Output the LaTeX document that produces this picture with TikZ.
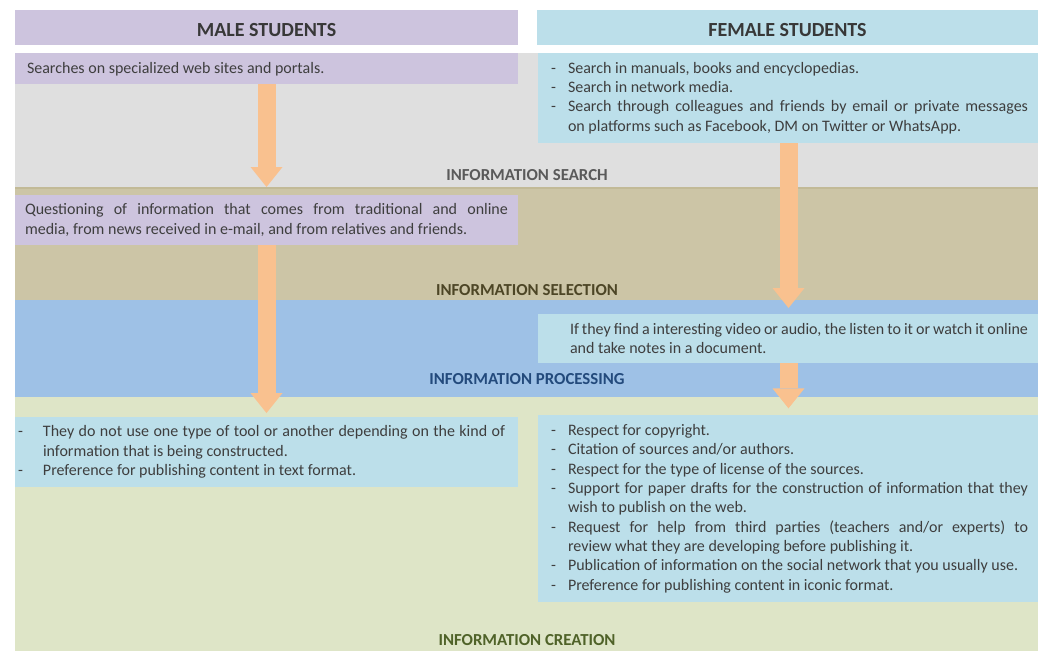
\documentclass[tikz,border=0pt]{standalone}
\usepackage{fontspec}
\setmainfont{Carlito}
\usetikzlibrary{arrows.meta}
\newcommand\p[1]{\the\dimexpr #1pt*3/4\relax}
\definecolor{malec}{HTML}{CDC4DE}
\definecolor{femc}{HTML}{BCDFEA}
\definecolor{searchc}{HTML}{DFDFDF}
\definecolor{selc}{HTML}{CCC5A6}
\definecolor{selline}{HTML}{C2BA97}
\definecolor{procc}{HTML}{9EC1E6}
\definecolor{creac}{HTML}{DEE5C7}
\definecolor{arrc}{HTML}{F9C18F}
\definecolor{txtc}{HTML}{3E3E3E}
\definecolor{hdrc}{HTML}{383838}
\definecolor{lsearch}{HTML}{5A5A5A}
\definecolor{lsel}{HTML}{4D4626}
\definecolor{lproc}{HTML}{234A7C}
\definecolor{lcrea}{HTML}{4F6228}
\newcommand\dashitem[2]{\par\noindent\hangindent=\p{#1}\hangafter=1\makebox[\p{#1}][l]{\hspace{\p{3}}-}#2\par}
\begin{document}
\begin{tikzpicture}[x=0.75pt,y=-0.75pt,
  blk/.style={inner sep=0pt, outer sep=0pt, anchor=north west, draw=none},
  txt/.style={inner sep=0pt, outer sep=0pt, text=txtc, anchor=west, font=\fontsize{12}{14.5}\selectfont},
  hdr/.style={inner sep=0pt, text=hdrc, font=\fontsize{15}{18}\selectfont\bfseries},
  lbl/.style={inner sep=0pt, font=\fontsize{12.6}{15}\selectfont\bfseries},
  bigarrow/.style={draw=arrc, line width=\p{18}, -{Triangle[width=\p{32}, length=\p{20}, line width=0pt]}}
]
\useasboundingbox (0,0) rectangle (1045,653);
\fill[white] (0,0) rectangle (1045,653);
% bands
\node[blk, fill=searchc, minimum width=\p{1023}, minimum height=\p{134}] (bsearch) at (15,53) {};
\node[blk, fill=selc, minimum width=\p{1023}, minimum height=\p{113}] (bsel) at (15,187) {};
\fill[selline] (15,187) rectangle (1038,189);
\node[blk, fill=procc, minimum width=\p{1023}, minimum height=\p{97}] (bproc) at (15,300) {};
\node[blk, fill=creac, minimum width=\p{1023}, minimum height=\p{254}] (bcrea) at (15,397) {};
% band labels
\node[lbl, text=lsearch] (lsearch) at (527,175) {INFORMATION SEARCH};
\node[lbl, text=lsel] (lsel) at (527,290.5) {INFORMATION SELECTION};
\node[lbl, text=lproc] (lproc) at (527,379.5) {INFORMATION PROCESSING};
\node[lbl, text=lcrea] (lcrea) at (527,640) {INFORMATION CREATION};
% headers
\node[blk, fill=malec, minimum width=\p{503}, minimum height=\p{35}] (mh) at (15,10) {};
\node[blk, fill=femc, minimum width=\p{501}, minimum height=\p{35}] (fh) at (537,10) {};
\node[hdr] (mht) at (266.5,30) {MALE STUDENTS};
\node[hdr] (fht) at (787.5,30.5) {FEMALE STUDENTS};
% male boxes
\node[blk, fill=malec, minimum width=\p{503}, minimum height=\p{31}] (m1) at (15,53) {};
\node[blk, fill=malec, minimum width=\p{503}, minimum height=\p{50}] (m2) at (15,195) {};
\node[blk, fill=femc, minimum width=\p{503}, minimum height=\p{70}] (m3) at (15,417) {};
% female boxes
\node[blk, fill=femc, minimum width=\p{500}, minimum height=\p{90}] (f1) at (538,53) {};
\node[blk, fill=femc, minimum width=\p{500}, minimum height=\p{49}] (f2) at (538,314) {};
\node[blk, fill=femc, minimum width=\p{500}, minimum height=\p{187}] (f3) at (538,415) {};
% texts
\node[txt] (m1t) at (27,69) {Searches on specialized web sites and portals.};
\node[txt] (m2t) at (25,220) {\parbox{\p{483}}{Questioning of information that comes from traditional and online\linebreak media, from news received in e-mail, and from relatives and friends.}};
\node[txt] (m3t) at (15,452) {\parbox{\p{490}}{%
\dashitem{28}{They do not use one type of tool or another depending on the kind of\linebreak information that is being constructed.}%
\dashitem{28}{Preference for publishing content in text format.}}};
\node[txt] (f1t) at (548,98) {\parbox{\p{480}}{%
\dashitem{20}{Search in manuals, books and encyclopedias.}%
\dashitem{20}{Search in network media.}%
\dashitem{20}{Search through colleagues and friends by email or private messages\linebreak on platforms such as Facebook, DM on Twitter or WhatsApp.}}};
\node[txt] (f2t) at (570,338.5) {\parbox{\p{458}}{If they find a interesting video or audio, the listen to it or watch it online\linebreak and take notes in a document.}};
\node[txt] (f3t) at (548,508.5) {\parbox{\p{480}}{%
\dashitem{20}{Respect for copyright.}%
\dashitem{20}{Citation of sources and/or authors.}%
\dashitem{20}{Respect for the type of license of the sources.}%
\dashitem{20}{Support for paper drafts for the construction of information that they\linebreak wish to publish on the web.}%
\dashitem{20}{Request for help from third parties (teachers and/or experts) to\linebreak review what they are developing before publishing it.}%
\dashitem{20}{Publication of information on the social network that you usually use.}%
\dashitem{20}{Preference for publishing content in iconic format.}}};
% arrows
\draw[bigarrow] (m1.south) -- ([yshift=6pt]m2.north);
\draw[bigarrow] (m2.south) -- ([yshift=3pt]m3.north);
\draw[bigarrow] ([xshift=\p{0.5}]f1.south) -- ([yshift=4.5pt, xshift=\p{0.5}]f2.north);
\draw[bigarrow] ([xshift=\p{0.5}]f2.south) -- ([yshift=5pt, xshift=\p{0.5}]f3.north);
\end{tikzpicture}
\end{document}
